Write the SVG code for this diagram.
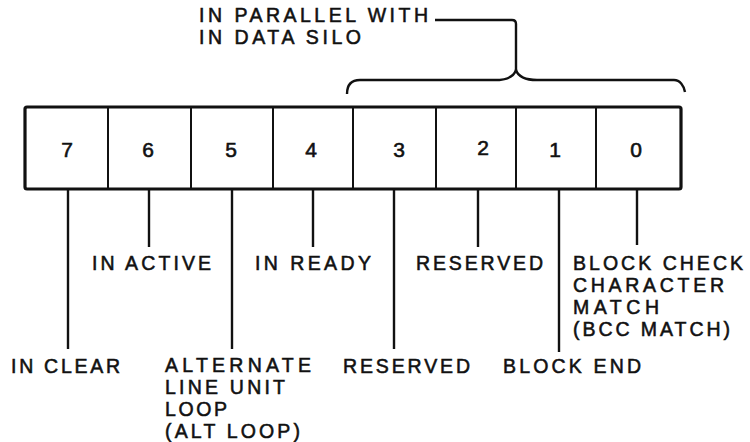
<svg xmlns="http://www.w3.org/2000/svg" width="750" height="442" viewBox="0 0 750 442">
<style>
  .lbl { font-family: "Liberation Sans", Arial, sans-serif; font-size: 19.5px; fill: #111; stroke: #111; stroke-width: 0.55px; }
  .dig { font-family: "Liberation Sans", Arial, sans-serif; font-size: 21px; fill: #111; stroke: #111; stroke-width: 0.6px; text-anchor: middle; }
  .cell { fill: none; stroke: #111; stroke-width: 2; }
  .outer { fill: none; stroke: #111; stroke-width: 3.2; stroke-linejoin: round; }
  .lead { fill: none; stroke: #111; stroke-width: 2.4; }
</style>
<rect width="750" height="442" fill="#fff"/>

<g id="register">
  <rect class="outer" x="25" y="107" width="656" height="82" rx="2"/>
  <g id="bit7"><text class="dig" x="67" y="157">7</text></g>
  <line class="cell" x1="108" y1="107" x2="108" y2="189"/>
  <g id="bit6"><text class="dig" x="148" y="157">6</text></g>
  <line class="cell" x1="191" y1="107" x2="191" y2="189"/>
  <g id="bit5"><text class="dig" x="231" y="157">5</text></g>
  <line class="cell" x1="273" y1="107" x2="273" y2="189"/>
  <g id="bit4"><text class="dig" x="311" y="157">4</text></g>
  <line class="cell" x1="353" y1="107" x2="353" y2="189"/>
  <g id="bit3"><text class="dig" x="399" y="157">3</text></g>
  <line class="cell" x1="436" y1="107" x2="436" y2="189"/>
  <g id="bit2"><text class="dig" x="483" y="155">2</text></g>
  <line class="cell" x1="516" y1="107" x2="516" y2="189"/>
  <g id="bit1"><text class="dig" x="555" y="157">1</text></g>
  <line class="cell" x1="596" y1="107" x2="596" y2="189"/>
  <g id="bit0"><text class="dig" x="636" y="157">0</text></g>
</g>

<g id="connectors">
  <line class="lead" x1="68" y1="189" x2="68" y2="349"/>
  <line class="lead" x1="149" y1="189" x2="149" y2="247"/>
  <line class="lead" x1="232" y1="189" x2="232" y2="349"/>
  <line class="lead" x1="313" y1="189" x2="313" y2="247"/>
  <line class="lead" x1="394" y1="189" x2="394" y2="349"/>
  <line class="lead" x1="478" y1="189" x2="478" y2="247"/>
  <line class="lead" x1="559" y1="189" x2="559" y2="352"/>
  <line class="lead" x1="637" y1="189" x2="637" y2="245"/>
  <path class="lead" d="M435,20 L512,20 Q516,20 516,24 L516,70"/>
  <path class="lead" d="M347,94 C347,86 350,80 360,80 L495,80 C508,80 514,76 516,70 C518,76 524,80 537,80 L674,80 C680,80 684,86 685,92"/>
</g>

<g id="label-parallel">
  <text class="lbl" x="199" y="22" textLength="229" lengthAdjust="spacing">IN PARALLEL WITH</text>
  <text class="lbl" x="199" y="44" textLength="162" lengthAdjust="spacing">IN DATA SILO</text>
</g>
<g id="label-bit7"><text class="lbl" x="11" y="373" textLength="109" lengthAdjust="spacing">IN CLEAR</text></g>
<g id="label-bit6"><text class="lbl" x="92" y="270" textLength="119" lengthAdjust="spacing">IN ACTIVE</text></g>
<g id="label-bit5">
  <text class="lbl" x="165" y="372" textLength="146" lengthAdjust="spacing">ALTERNATE</text>
  <text class="lbl" x="165" y="394" textLength="120" lengthAdjust="spacing">LINE UNIT</text>
  <text class="lbl" x="165" y="416" textLength="62" lengthAdjust="spacing">LOOP</text>
  <text class="lbl" x="165" y="438" textLength="135" lengthAdjust="spacing">(ALT LOOP)</text>
</g>
<g id="label-bit4"><text class="lbl" x="255" y="270" textLength="116" lengthAdjust="spacing">IN READY</text></g>
<g id="label-bit3"><text class="lbl" x="343" y="373" textLength="127" lengthAdjust="spacing">RESERVED</text></g>
<g id="label-bit2"><text class="lbl" x="416" y="270" textLength="127" lengthAdjust="spacing">RESERVED</text></g>
<g id="label-bit1"><text class="lbl" x="503" y="373" textLength="138" lengthAdjust="spacing">BLOCK END</text></g>
<g id="label-bit0">
  <text class="lbl" x="573" y="270" textLength="170" lengthAdjust="spacing">BLOCK CHECK</text>
  <text class="lbl" x="573" y="292" textLength="151" lengthAdjust="spacing">CHARACTER</text>
  <text class="lbl" x="573" y="314" textLength="86" lengthAdjust="spacing">MATCH</text>
  <text class="lbl" x="573" y="336" textLength="157" lengthAdjust="spacing">(BCC MATCH)</text>
</g>
</svg>
